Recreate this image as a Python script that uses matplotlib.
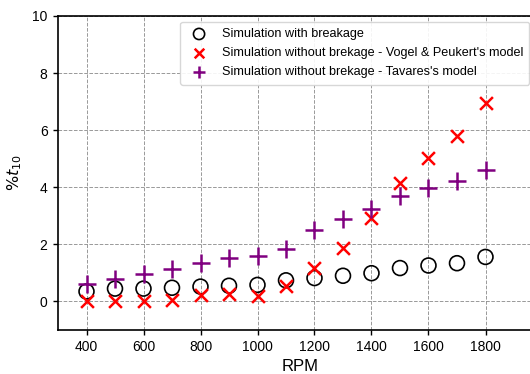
import matplotlib
matplotlib.use("Agg")
import matplotlib.pyplot as plt

plt.rcParams['font.family'] = ['Liberation Sans', 'DejaVu Sans']

rpm = [400, 500, 600, 700, 800, 900, 1000, 1100, 1200, 1300, 1400, 1500, 1600, 1700, 1800]
with_breakage = [0.35, 0.45, 0.45, 0.48, 0.52, 0.55, 0.58, 0.74, 0.82, 0.90, 0.99, 1.17, 1.26, 1.34, 1.56]
vogel = [0.0, 0.0, 0.0, 0.05, 0.22, 0.25, 0.18, 0.54, 1.18, 1.88, 2.94, 4.16, 5.04, 5.79, 6.96]
tavares = [0.60, 0.80, 0.95, 1.15, 1.35, 1.52, 1.58, 1.85, 2.52, 2.88, 3.23, 3.70, 3.99, 4.22, 4.62]

labels = ["Simulation with breakage",
          "Simulation without brekage - Vogel & Peukert's model",
          "Simulation without brekage - Tavares's model"]
xticks = [400, 600, 800, 1000, 1200, 1400, 1600, 1800]
yticks = [0, 2, 4, 6, 8, 10]

fig = plt.figure(figsize=(5.3, 3.74), dpi=100)
ax = fig.add_axes([58/530, 1 - 330/374, (542.5-58)/530, (330-16)/374])

ax.scatter(rpm, with_breakage, s=115, marker='o', facecolors='none', edgecolors='black', linewidths=1.2, label=labels[0], zorder=3)
ax.scatter(rpm, vogel, s=85, marker='x', color='red', linewidths=1.8, label=labels[1], zorder=3)
ax.scatter(rpm, tavares, s=150, marker='+', color='purple', linewidths=1.8, label=labels[2], zorder=3)

ax.set_xlim(300, 2000)
ax.set_ylim(-1, 10)
ax.set_xticks(xticks)
ax.set_yticks(yticks)
ax.grid(True, linestyle='--', color='gray', linewidth=0.7, alpha=0.8)
ax.set_axisbelow(True)
ax.tick_params(labelsize=10, length=3.5, width=1, pad=4, colors='black')
ax.set_xlabel("RPM", fontsize=12, labelpad=3)
ax.set_ylabel(r"$\%t_{10}$", fontsize=11.5, labelpad=6)
for sp in ax.spines.values():
    sp.set_color('black')
    sp.set_linewidth(1.2)

leg = ax.legend(loc='upper left', bbox_to_anchor=(0.252, 0.981), borderaxespad=0, fontsize=9.1,
                frameon=True, framealpha=0.9, edgecolor='lightgray', handletextpad=0.8,
                borderpad=0.5, labelspacing=0.55, markerscale=0.75)

fig.savefig("out.png", dpi=100)
